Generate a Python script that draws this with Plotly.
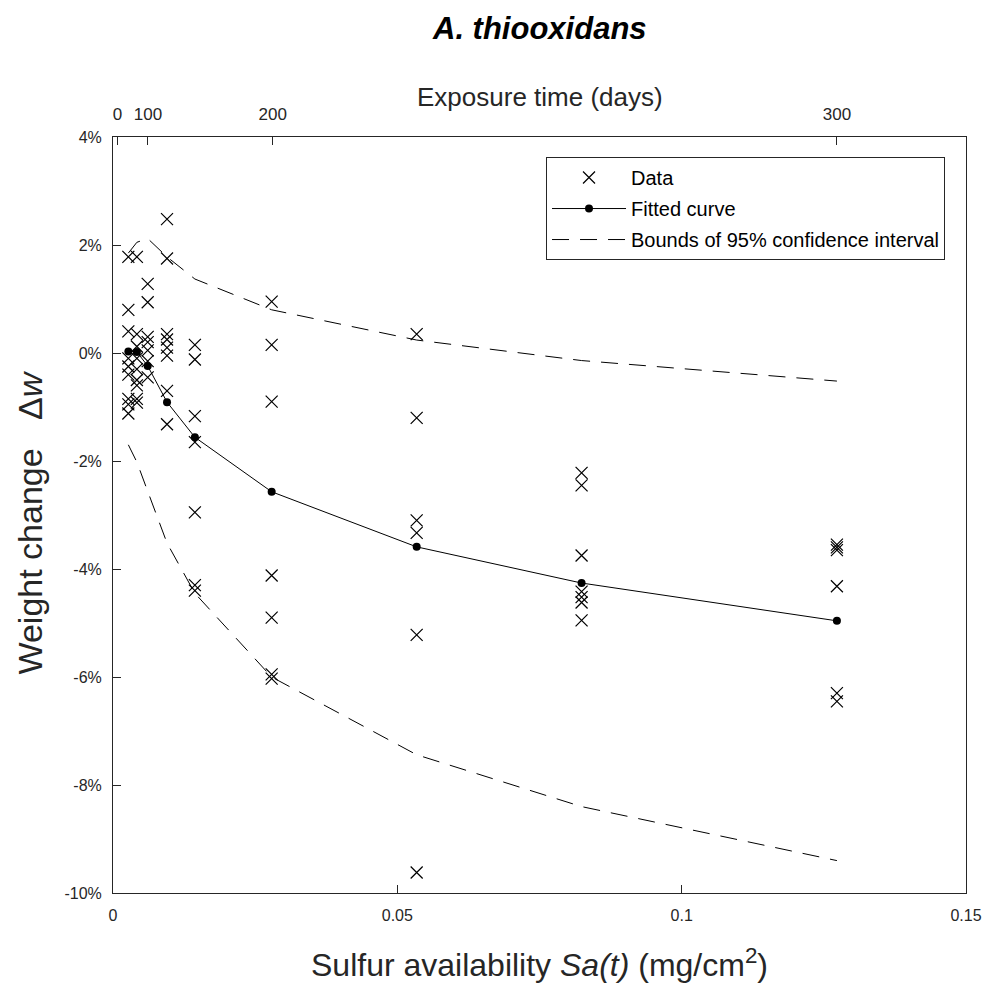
import plotly.graph_objects as go

# ---- data ----
sa_levels = [0.0027, 0.0042, 0.0061, 0.0095, 0.0144, 0.0279, 0.0534, 0.0824, 0.1273]
data_by_level = [
    [1.78, 0.80, 0.40, -0.10, -0.25, -0.40, -0.85, -0.95, -1.12],
    [1.78, 0.35, 0.12, -0.10, -0.30, -0.50, -0.60, -0.85, -0.92],
    [1.28, 0.94, 0.30, 0.20, 0.05, -0.15, -0.45],
    [2.48, 1.75, 0.35, 0.25, 0.10, -0.05, -0.70, -1.32],
    [0.15, -0.12, -1.17, -1.65, -2.95, -4.30, -4.40],
    [0.95, 0.15, -0.90, -4.12, -4.90, -5.95, -6.03],
    [0.35, -1.20, -3.10, -3.33, -5.22, -9.62],
    [-2.22, -2.45, -3.75, -4.42, -4.52, -4.62, -4.95],
    [-3.55, -3.60, -3.65, -4.32, -6.30, -6.45],
]
fit_values = [0.03, 0.02, -0.24, -0.91, -1.56, -2.57, -3.59, -4.26, -4.96]
upper_bound = [1.85, 2.05, 2.12, 1.78, 1.37, 0.80, 0.24, -0.14, -0.52]
lower_bound = [-1.70, -2.02, -2.56, -3.52, -4.45, -6.00, -7.44, -8.40, -9.40]

y_tick_vals = [4, 2, 0, -2, -4, -6, -8, -10]
y_tick_text = ["4%", "2%", "0%", "-2%", "-4%", "-6%", "-8%", "-10%"]
x_tick_vals = [0, 0.05, 0.1, 0.15]
x_tick_text = ["0", "0.05", "0.1", "0.15"]
days_tick_pos = [0.0008, 0.00615, 0.0281, 0.1273]
days_tick_text = ["0", "100", "200", "300"]

data_x = [s for s, vals in zip(sa_levels, data_by_level) for _ in vals]
data_y = [v for vals in data_by_level for v in vals]

AX = "#262626"
FONT = "Liberation Sans, Arial, Helvetica, sans-serif"

fig = go.Figure()
fig.add_trace(go.Scatter(
    x=data_x, y=data_y, mode="markers", name="Data",
    marker=dict(symbol="x-thin-open", size=12, color="black",
                line=dict(color="black", width=1.2)),
    legendgroup="a",
))
fig.add_trace(go.Scatter(
    x=sa_levels, y=fit_values, mode="lines+markers", name="Fitted curve",
    line=dict(color="black", width=1),
    marker=dict(symbol="circle", size=8, color="black"),
    legendgroup="b",
))
fig.add_trace(go.Scatter(
    x=sa_levels, y=upper_bound, mode="lines", name="Bounds of 95% confidence interval",
    line=dict(color="black", width=1, dash="17px,11px"),
    legendgroup="c",
))
fig.add_trace(go.Scatter(
    x=sa_levels, y=lower_bound, mode="lines", name="lower",
    line=dict(color="black", width=1, dash="17px,11px"),
    showlegend=False, legendgroup="c",
))
# invisible trace so the top (exposure time) axis is drawn
fig.add_trace(go.Scatter(
    x=sa_levels, y=fit_values, xaxis="x2", mode="markers",
    marker=dict(opacity=0), showlegend=False, hoverinfo="skip",
))

fig.update_layout(
    width=991, height=988,
    margin=dict(l=105, r=33, t=129, b=103),
    paper_bgcolor="white", plot_bgcolor="white",
    font=dict(family=FONT, color=AX, size=15),
    showlegend=True,
    legend=dict(
        x=0.9754, y=0.9735, xanchor="right", yanchor="top",
        bgcolor="white", bordercolor=AX, borderwidth=1,
        font=dict(family=FONT, size=20, color="black"),
        itemwidth=74, traceorder="grouped", tracegroupgap=2,
    ),
    xaxis=dict(
        range=[0, 0.15], tickvals=x_tick_vals, ticktext=x_tick_text,
        ticks="inside", ticklen=8, tickcolor=AX, tickwidth=1,
        showline=True, linecolor=AX, linewidth=1, mirror=False,
        showgrid=False, zeroline=False,
        ticklabelstandoff=8,
        tickfont=dict(family=FONT, size=16, color=AX),
    ),
    xaxis2=dict(
        overlaying="x", side="top", anchor="y",
        range=[0, 0.15], tickvals=days_tick_pos, ticktext=days_tick_text,
        ticks="inside", ticklen=8, tickcolor=AX, tickwidth=1,
        showline=True, linecolor=AX, linewidth=1,
        showgrid=False, zeroline=False,
        ticklabelstandoff=9,
        tickfont=dict(family=FONT, size=17, color=AX),
    ),
    yaxis=dict(
        range=[-10, 4], tickvals=y_tick_vals, ticktext=y_tick_text,
        ticks="inside", ticklen=8, tickcolor=AX, tickwidth=1,
        showline=True, linecolor=AX, linewidth=1, mirror=True,
        showgrid=False, zeroline=False,
        ticklabelstandoff=7,
        tickfont=dict(family=FONT, size=16, color=AX),
    ),
    annotations=[
        dict(text="<b><i>A. thiooxidans</i></b>", xref="paper", yref="paper",
             x=0.5, y=1.144, xanchor="center", yanchor="middle", showarrow=False,
             font=dict(family=FONT, size=31, color="black")),
        dict(text="Exposure time (days)", xref="paper", yref="paper",
             x=0.5, y=1.053, xanchor="center", yanchor="middle", showarrow=False,
             font=dict(family=FONT, size=26, color=AX)),
        dict(text="Sulfur availability <i>Sa(t)</i> (mg/cm<sup>2</sup>)", xref="paper", yref="paper",
             x=0.5, y=-0.092, xanchor="center", yanchor="middle", showarrow=False,
             font=dict(family=FONT, size=32, color=AX)),
        dict(text="Weight change&nbsp;&nbsp;&nbsp;Δ<i>w</i>", xref="paper", yref="paper",
             x=-0.0973, y=0.49, xanchor="center", yanchor="middle", showarrow=False,
             textangle=-90, font=dict(family=FONT, size=34, color=AX)),
    ],
)

fig.write_html("out.html")
